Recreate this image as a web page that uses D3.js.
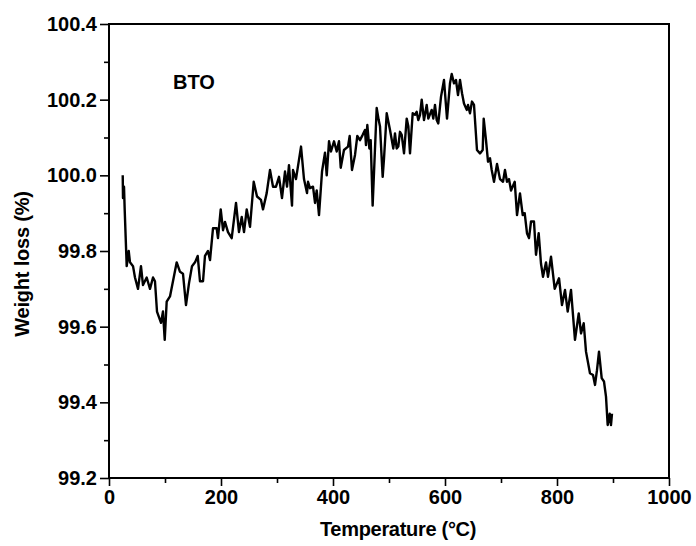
<!DOCTYPE html>
<html>
<head>
<meta charset="utf-8">
<script src="https://cdn.jsdelivr.net/npm/d3@7"></script>
<style>
  html, body { margin: 0; padding: 0; background: #fff; }
  svg { display: block; }
  text { font-family: "Liberation Sans", Arial, sans-serif; font-weight: bold; fill: #000; }
</style>
</head>
<body>
<svg id="chart" width="696" height="546"></svg>
<script>
// ---- data ----
const temperature = [
  24.5, 25.0, 26.8, 28.0, 31.6, 35.2, 37.5, 42.9, 46.4, 51.8, 57.1, 60.7, 67.3, 73.2, 78.6, 82.1,
  85.7, 92.9, 96.4, 99.5, 103.0, 108.9, 120.9, 126.8, 132.1, 137.5, 142.9, 148.2, 153.6, 158.4,
  162.5, 167.9, 171.4, 176.8, 180.4, 185.7, 192.3, 194.6, 199.5, 203.6, 207.1, 212.5, 219.1,
  226.8, 232.1, 237.0, 241.1, 245.9, 251.8, 258.4, 264.3, 271.4, 275.0, 281.6, 287.5, 292.9,
  298.2, 303.6, 308.9, 314.3, 317.9, 321.4, 326.8, 328.6, 333.9,
  342.9, 348.2, 353.6, 355.4, 358.9, 364.3, 367.9, 370.9, 375.0, 380.4, 385.7, 388.8, 392.9,
  396.4, 401.8, 406.6, 410.7, 413.8, 419.6, 426.8, 429.8, 433.9, 439.3, 443.4, 448.2, 453.0,
  457.1, 458.9, 461.3, 464.9, 467.3, 470.8, 478.0, 481.6, 483.9, 488.7, 491.1, 495.9, 501.8,
  507.7, 510.7, 513.7, 516.6, 519.6, 522.7, 526.8, 531.6, 534.5, 537.5, 542.3, 546.4, 549.4,
  552.3, 555.4, 558.4, 562.5, 567.3, 570.2, 576.2, 579.1, 582.1, 585.2, 588.0, 591.1,
  592.9, 598.2, 603.6, 608.9, 612.0, 616.1, 619.6, 623.2, 626.8, 630.4, 633.9, 638.8, 641.1,
  644.6, 648.2, 651.8, 657.1, 662.5, 667.3, 669.1, 673.2, 676.8, 680.4, 683.4, 687.5, 692.9,
  698.2, 703.6, 707.1, 710.7, 714.3, 717.9, 724.5, 728.6, 733.9, 738.8, 742.3, 746.4,
  750.0, 753.6, 758.9, 762.5, 767.3, 771.4, 775.0, 780.4, 783.9, 789.3, 795.9, 803.6, 808.9,
  814.3, 819.1, 825.0, 832.1, 838.8, 842.9, 847.7, 851.8, 858.9, 864.3, 867.9, 871.4, 875.0,
  879.8, 883.9, 887.5, 890.5, 894.1, 896.4, 898.2
];
const weight = [
  100.00, 99.94, 99.97, 99.91, 99.76, 99.80, 99.77, 99.76, 99.73, 99.70, 99.76, 99.71, 99.73, 99.70, 99.73, 99.72,
  99.64, 99.61, 99.64, 99.565, 99.666, 99.68, 99.77, 99.745, 99.74, 99.657, 99.715, 99.76, 99.77, 99.787,
  99.72, 99.72, 99.787, 99.80, 99.776, 99.86, 99.86, 99.834, 99.91, 99.855, 99.877, 99.85, 99.834,
  99.927, 99.85, 99.89, 99.85, 99.91, 99.864, 99.983, 99.944, 99.935, 99.91, 99.953, 100.014, 99.97,
  99.97, 99.996, 99.94, 100.01, 99.97, 100.027, 99.92, 100.014, 99.99,
  100.076, 99.99, 99.953, 99.983, 99.966, 99.97, 99.927, 99.96, 99.895, 100.01, 100.06, 100.0, 100.09,
  100.063, 100.09, 100.063, 100.09, 100.02, 100.067, 100.076, 100.104, 100.014, 100.054, 100.104, 100.093, 100.107,
  100.12, 100.08, 100.133, 100.071, 100.093, 99.92, 100.178, 100.146, 100.13, 99.996, 100.045, 100.164, 100.12,
  100.071, 100.111, 100.071, 100.076, 100.115, 100.107, 100.058, 100.15, 100.13, 100.058, 100.164, 100.16, 100.168,
  100.146, 100.16, 100.2, 100.146, 100.186, 100.15, 100.173, 100.15, 100.186, 100.146, 100.137, 100.182,
  100.208, 100.252, 100.15, 100.243, 100.268, 100.243, 100.252, 100.212, 100.252, 100.217, 100.19, 100.173, 100.186,
  100.164, 100.195, 100.186, 100.067, 100.058, 100.067, 100.15, 100.093, 100.036, 100.045, 100.014, 99.983, 100.03,
  99.99, 99.983, 100.014, 99.983, 99.99, 99.96, 99.983, 99.895, 99.952, 99.895, 99.9, 99.847,
  99.834, 99.878, 99.878, 99.79, 99.847, 99.767, 99.732, 99.77, 99.732, 99.785, 99.70, 99.728, 99.657,
  99.697, 99.64, 99.697, 99.565, 99.635, 99.582, 99.609, 99.534, 99.477, 99.472, 99.446, 99.485, 99.534,
  99.464, 99.455, 99.415, 99.34, 99.37, 99.34, 99.37
];
const xTicks = [0, 200, 400, 600, 800, 1000];
const xMinorTicks = [100, 300, 500, 700, 900];
const yTicks = [99.2, 99.4, 99.6, 99.8, 100.0, 100.2, 100.4];
const yMinorTicks = [99.3, 99.5, 99.7, 99.9, 100.1, 100.3];
const seriesLabel = "BTO";
const xTitle = "Temperature (°C)";
const yTitle = "Weight loss (%)";

// ---- layout ----
const W = 696, H = 546;
const m = { left: 109, top: 24, right: 27, bottom: 68 };
const pw = W - m.left - m.right, ph = H - m.top - m.bottom;

const svg = d3.select("#chart");
const g = svg.append("g").attr("transform", `translate(${m.left},${m.top})`);

const x = d3.scaleLinear().domain([0, 1000]).range([0, pw]);
const y = d3.scaleLinear().domain([99.2, 100.4]).range([ph, 0]);

// frame
g.append("rect").attr("x", 0).attr("y", 0).attr("width", pw).attr("height", ph)
  .attr("fill", "none").attr("stroke", "#000").attr("stroke-width", 2);

// x axis
const xAx = g.append("g").attr("transform", `translate(0,${ph})`)
  .call(d3.axisBottom(x).tickValues(xTicks).tickFormat(d3.format("d")).tickSize(8).tickPadding(4));
const xMin = g.append("g").attr("transform", `translate(0,${ph})`)
  .call(d3.axisBottom(x).tickValues(xMinorTicks).tickFormat("").tickSize(5));

// y axis
const yAx = g.append("g")
  .call(d3.axisLeft(y).tickValues(yTicks).tickFormat(d3.format(".1f")).tickSize(9).tickPadding(3));
const yMin = g.append("g")
  .call(d3.axisLeft(y).tickValues(yMinorTicks).tickFormat("").tickSize(5));

[xAx, xMin, yAx, yMin].forEach(a => {
  a.select(".domain").remove();
  a.selectAll(".tick line").attr("stroke", "#000").attr("stroke-width", 1.6);
  a.selectAll("text").attr("font-size", 20).attr("font-family", "Liberation Sans, Arial, sans-serif")
    .attr("font-weight", "bold").attr("fill", "#000");
});

// line
const data = temperature.map((t, i) => ({ t, w: weight[i] }));
g.append("path").datum(data)
  .attr("fill", "none").attr("stroke", "#000").attr("stroke-width", 2.4)
  .attr("stroke-linejoin", "round")
  .attr("d", d3.line().x(d => x(d.t)).y(d => y(d.w)));

// series label
g.append("text").attr("x", 64).attr("y", 65).attr("font-size", 20).text(seriesLabel);

// axis titles
svg.append("text").attr("x", 398).attr("y", 536).attr("text-anchor", "middle")
  .attr("font-size", 20).attr("letter-spacing", -0.3).text(xTitle);
svg.append("text").attr("transform", "translate(29,264) rotate(-90)").attr("text-anchor", "middle")
  .attr("font-size", 20).attr("letter-spacing", -0.2).text(yTitle);
</script>
</body>
</html>
